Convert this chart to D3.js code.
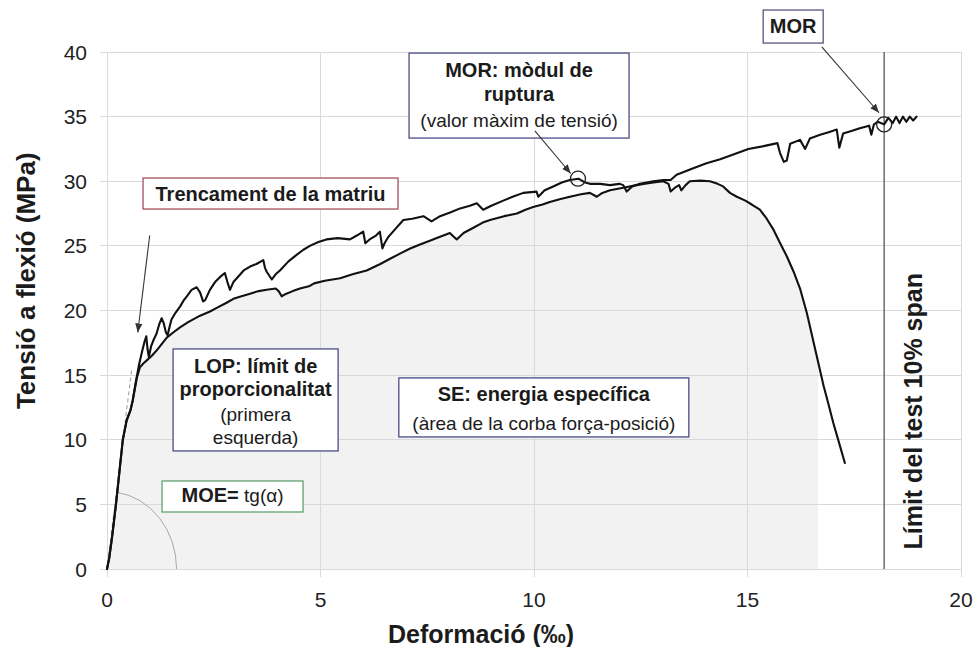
<!DOCTYPE html>
<html>
<head>
<meta charset="utf-8">
<script src="https://cdn.jsdelivr.net/npm/d3@7"></script>
<style>
  html, body { margin: 0; padding: 0; background: #fff; }
  svg { display: block; font-family: "Liberation Sans", Arial, sans-serif; }
</style>
</head>
<body>
<svg id="chart" width="975" height="647"></svg>
<script>
// Axis ticks
const xTicks = [0, 5, 10, 15, 20];
const yTicks = [0, 5, 10, 15, 20, 25, 30, 35, 40];

// Flexural test, specimen reaching the span limit: [deformation ‰, stress MPa]
const curveUpper = [
  [0,0],[0.05,0.8],[0.12,2.5],[0.21,5],[0.29,7.5],[0.37,10],[0.46,11.5],[0.55,12.3],[0.6,13.0],
  [0.67,14.4],[0.75,15.8],[0.82,16.8],[0.88,17.6],[0.92,18.0],[0.95,17.0],[0.98,16.4],[1.03,17.2],
  [1.1,17.8],[1.16,18.2],[1.22,18.9],[1.28,19.4],[1.33,19.0],[1.38,18.3],[1.42,18.1],[1.47,18.8],
  [1.51,19.3],[1.6,19.8],[1.71,20.3],[1.8,20.8],[1.87,21.1],[1.98,21.6],[2.1,21.8],[2.18,21.4],
  [2.25,20.7],[2.3,20.8],[2.41,21.6],[2.53,22.2],[2.65,22.6],[2.76,22.9],[2.82,22.2],[2.88,21.6],
  [2.96,22.2],[3.04,22.5],[3.2,23.1],[3.35,23.4],[3.5,23.6],[3.66,23.9],[3.7,23.3],[3.74,23.0],
  [3.86,22.4],[3.95,22.8],[4.05,23.1],[4.25,23.8],[4.44,24.3],[4.6,24.7],[4.75,25.0],[4.95,25.3],
  [5.14,25.5],[5.4,25.6],[5.69,25.5],[5.85,25.8],[6.0,26.1],[6.05,25.2],[6.15,25.5],[6.3,25.8],
  [6.39,26.1],[6.45,24.8],[6.5,25.2],[6.59,25.7],[6.75,26.3],[6.94,27.0],[7.15,27.1],[7.41,27.3],
  [7.6,26.9],[7.8,27.3],[8.05,27.6],[8.27,27.9],[8.5,28.1],[8.66,28.3],[8.81,27.8],[9.0,28.1],
  [9.28,28.5],[9.5,28.8],[9.75,29.1],[10.06,29.2],[10.1,28.8],[10.25,29.3],[10.45,29.6],[10.65,29.9],
  [10.84,30.1],[11.04,30.2],[11.2,29.9],[11.31,29.8],[11.55,29.8],[11.78,29.7],[12.0,29.8],[12.09,29.7],
  [12.17,29.2],[12.3,29.6],[12.48,29.8],[12.79,30.0],[13.03,30.1],[13.2,30.1],[13.34,30.5],[13.73,31.0],
  [14.04,31.4],[14.36,31.7],[14.7,32.1],[15.02,32.5],[15.35,32.7],[15.7,32.95],[15.76,32.2],[15.85,31.5],
  [15.92,31.6],[16.0,32.9],[16.23,33.2],[16.35,32.5],[16.46,33.3],[16.7,33.6],[16.9,33.8],[17.09,34.0],
  [17.15,32.6],[17.24,33.7],[17.45,33.9],[17.63,34.1],[17.85,34.3],[17.9,33.6],[17.96,34.4],[18.05,34.6],
  [18.2,34.4],[18.3,34.9],[18.4,34.5],[18.48,35.0],[18.56,34.5],[18.64,35.0],[18.72,34.6],[18.8,35.0],
  [18.88,34.7],[18.96,35.0]
];

// Flexural test, specimen failing before the span limit
const curveLower = [
  [0,0],[0.05,0.8],[0.12,2.5],[0.21,5],[0.29,7.5],[0.37,10],[0.46,11.5],[0.55,12.3],[0.6,13.0],
  [0.7,14.8],[0.77,15.6],[0.85,15.9],[0.95,16.2],[1.05,16.5],[1.16,16.9],[1.28,17.4],[1.4,17.9],
  [1.55,18.3],[1.71,18.7],[1.9,19.1],[2.18,19.6],[2.4,19.9],[2.57,20.2],[2.8,20.6],[2.96,20.9],
  [3.15,21.1],[3.35,21.3],[3.55,21.5],[3.74,21.6],[3.95,21.7],[4.02,21.5],[4.09,21.1],[4.2,21.3],
  [4.35,21.5],[4.52,21.7],[4.75,21.9],[4.85,22.1],[5.1,22.3],[5.46,22.5],[5.75,22.8],[6.08,23.1],
  [6.4,23.6],[6.63,24.0],[6.86,24.4],[7.1,24.8],[7.33,25.1],[7.56,25.4],[7.8,25.7],[8.03,26.0],
  [8.12,25.7],[8.19,25.5],[8.35,26.0],[8.58,26.4],[8.8,26.8],[8.97,27.0],[9.3,27.3],[9.6,27.5],
  [9.8,27.8],[9.98,28.0],[10.2,28.2],[10.37,28.4],[10.6,28.6],[10.84,28.8],[11.1,29.0],[11.31,29.1],
  [11.47,28.8],[11.6,29.1],[11.78,29.3],[12.09,29.5],[12.4,29.7],[12.6,29.8],[12.8,29.9],[13.03,30.0],
  [13.15,29.8],[13.2,29.2],[13.3,29.5],[13.4,29.7],[13.45,29.3],[13.55,29.7],[13.65,30.0],[13.9,30.05],
  [14.12,30.0],[14.3,29.8],[14.43,29.6],[14.59,29.1],[14.75,28.8],[14.95,28.5],[15.1,28.2],[15.29,27.8],
  [15.45,27.1],[15.6,26.3],[15.75,25.3],[15.92,24.2],[16.08,23.0],[16.23,21.7],[16.39,19.8],[16.46,18.8],
  [16.62,16.5],[16.78,14.2],[16.9,12.7],[17.01,11.3],[17.15,9.7],[17.28,8.2]
];

// Key points
const morPeak = [11.03, 30.2];      // maximum stress, lower specimen
const morLimit = [18.2, 34.4];      // stress at the span limit, upper specimen
const spanLimit = 18.2;             // 10% span test limit (‰)
const energyEnd = 16.65;            // end of the integrated area (‰)
const moeSlope = 26.7;              // initial tangent (MPa per ‰)
const moeTangentEnd = 0.58;         // length of the tangent line (‰)
const angleArc = { rx: 1.63, ry: 6.0 };   // α marker, in axis units

const svg = d3.select("#chart");
const x = d3.scaleLinear().domain([0, 20]).range([107, 961]);
const y = d3.scaleLinear().domain([0, 40]).range([569, 52]);

const gridColor = "#d9d9d9";
const ink = "#1b1b1b";

// Clip for the specific-energy area
svg.append("defs").append("clipPath").attr("id", "seClip")
  .append("rect")
  .attr("x", x(0)).attr("y", y(40))
  .attr("width", x(energyEnd) - x(0)).attr("height", y(0) - y(40));

const defs = svg.select("defs");
defs.append("marker").attr("id", "arrow")
  .attr("viewBox", "0 0 10 10").attr("refX", 10).attr("refY", 5)
  .attr("markerWidth", 9).attr("markerHeight", 9).attr("markerUnits", "userSpaceOnUse")
  .attr("orient", "auto")
  .append("path").attr("d", "M0,1 L10,5 L0,9 z").attr("fill", "#333");

// Shaded area under the lower curve
const area = d3.area().x(d => x(d[0])).y0(y(0)).y1(d => y(d[1]));
svg.append("path").datum(curveLower)
  .attr("d", area).attr("fill", "#f2f2f2")
  .attr("clip-path", "url(#seClip)");

// Grid
svg.append("g").selectAll("line").data(yTicks).join("line")
  .attr("x1", x(0) - 7).attr("x2", x(20))
  .attr("y1", d => y(d)).attr("y2", d => y(d))
  .attr("stroke", gridColor).attr("stroke-width", 1).attr("shape-rendering", "crispEdges");
svg.append("g").selectAll("line").data(xTicks).join("line")
  .attr("x1", d => x(d)).attr("x2", d => x(d))
  .attr("y1", y(40)).attr("y2", y(0) + 8)
  .attr("stroke", gridColor).attr("stroke-width", 1).attr("shape-rendering", "crispEdges");

// Tick labels
svg.append("g").selectAll("text").data(yTicks).join("text")
  .attr("x", x(0) - 20).attr("y", d => y(d))
  .attr("text-anchor", "end").attr("dominant-baseline", "central")
  .attr("font-size", 21).attr("fill", "#222").text(d => d);
svg.append("g").selectAll("text").data(xTicks).join("text")
  .attr("x", d => x(d)).attr("y", y(0) + 30)
  .attr("text-anchor", "middle").attr("dominant-baseline", "central")
  .attr("font-size", 21).attr("fill", "#222").text(d => d);

// Axis titles
svg.append("text")
  .attr("transform", `translate(26,${y(22.3)}) rotate(-90)`)
  .attr("text-anchor", "middle").attr("dominant-baseline", "central")
  .attr("font-size", 26).attr("font-weight", "bold").attr("fill", ink)
  .text("Tensió a flexió (MPa)");
svg.append("text")
  .attr("x", x(8.76)).attr("y", 634)
  .attr("text-anchor", "middle").attr("dominant-baseline", "central")
  .attr("font-size", 25).attr("font-weight", "bold").attr("fill", ink)
  .text("Deformació (‰)");

// MOE tangent and α arc
svg.append("line")
  .attr("x1", x(0)).attr("y1", y(0))
  .attr("x2", x(moeTangentEnd)).attr("y2", y(moeTangentEnd * moeSlope))
  .attr("stroke", "#aaa").attr("stroke-width", 1.2).attr("stroke-dasharray", "4,3");
{
  const t = 1 / Math.sqrt(1 / (angleArc.rx ** 2) + (moeSlope ** 2) / (angleArc.ry ** 2));
  const sx = x(t), sy = y(t * moeSlope);
  const rxPx = x(angleArc.rx) - x(0), ryPx = y(0) - y(angleArc.ry);
  svg.append("path")
    .attr("d", `M${sx},${sy} A${rxPx},${ryPx} 0 0 1 ${x(angleArc.rx)},${y(0)}`)
    .attr("fill", "none").attr("stroke", "#a8a8a8").attr("stroke-width", 1);
}

// Span limit
svg.append("line")
  .attr("x1", x(spanLimit)).attr("x2", x(spanLimit))
  .attr("y1", y(40)).attr("y2", y(0))
  .attr("stroke", "#555").attr("stroke-width", 1.3);
svg.append("text")
  .attr("transform", `translate(913,${y(12.2)}) rotate(-90)`)
  .attr("text-anchor", "middle").attr("dominant-baseline", "central")
  .attr("font-size", 25).attr("font-weight", "bold").attr("fill", ink)
  .text("Límit del test 10% span");

// Curves
const line = d3.line().x(d => x(d[0])).y(d => y(d[1]));
[curveLower, curveUpper].forEach(c => {
  svg.append("path").datum(c).attr("d", line)
    .attr("fill", "none").attr("stroke", "#111").attr("stroke-width", 2.1)
    .attr("stroke-linejoin", "round").attr("stroke-linecap", "round");
});

// MOR markers
[morPeak, morLimit].forEach(p => {
  svg.append("circle").attr("cx", x(p[0])).attr("cy", y(p[1])).attr("r", 7.5)
    .attr("fill", "none").attr("stroke", "#222").attr("stroke-width", 1.3);
});

// Annotation boxes: centre in axis units, size in px
function box(cxv, cyv, w, h, stroke, lines) {
  const cx = x(cxv), cy = y(cyv);
  const g = svg.append("g");
  g.append("rect").attr("x", cx - w / 2).attr("y", cy - h / 2)
    .attr("width", w).attr("height", h)
    .attr("fill", "#fff").attr("stroke", stroke).attr("stroke-width", 1.3);
  lines.forEach(l => {
    const t = g.append("text").attr("x", cx).attr("y", cy + l.dy)
      .attr("text-anchor", "middle").attr("dominant-baseline", "central")
      .attr("fill", ink);
    l.parts.forEach(p => {
      t.append("tspan").attr("font-weight", p.bold ? "bold" : "normal")
        .attr("font-size", p.bold ? 20 : 19).text(p.text);
    });
  });
  return g;
}

const navy = "#4b4c86";

box(3.83, 29.05, 255, 31, "#a3505e", [
  { dy: 0, parts: [{ text: "Trencament de la matriu", bold: true }] }
]);
box(3.48, 13.08, 165, 102, navy, [
  { dy: -34, parts: [{ text: "LOP: límit de", bold: true }] },
  { dy: -11, parts: [{ text: "proporcionalitat", bold: true }] },
  { dy: 14, parts: [{ text: "(primera", bold: false }] },
  { dy: 37, parts: [{ text: "esquerda)", bold: false }] }
]);
box(2.94, 5.61, 141, 31, "#62a172", [
  { dy: -1, parts: [{ text: "MOE=", bold: true }, { text: " tg(α)", bold: false }] }
]);
box(9.65, 36.63, 220, 85, navy, [
  { dy: -25.5, parts: [{ text: "MOR: mòdul de", bold: true }] },
  { dy: -1.5, parts: [{ text: "ruptura", bold: true }] },
  { dy: 24.5, parts: [{ text: "(valor màxim de tensió)", bold: false }] }
]);
box(16.07, 41.97, 60, 33, "#55577e", [
  { dy: -1, parts: [{ text: "MOR", bold: true }] }
]);
box(10.23, 12.5, 290, 59, navy, [
  { dy: -13.5, parts: [{ text: "SE: energia específica", bold: true }] },
  { dy: 15.5, parts: [{ text: "(àrea de la corba força-posició)", bold: false }] }
]);

// Arrows
function arrow(x1, y1, x2, y2) {
  svg.append("line")
    .attr("x1", x(x1)).attr("y1", y(y1)).attr("x2", x(x2)).attr("y2", y(y2))
    .attr("stroke", "#333").attr("stroke-width", 1.1)
    .attr("marker-end", "url(#arrow)");
}
arrow(1.0, 25.8, 0.72, 18.3);
arrow(10.02, 33.9, 10.86, 30.6);
arrow(16.74, 40.4, 18.08, 35.3);
</script>
</body>
</html>
